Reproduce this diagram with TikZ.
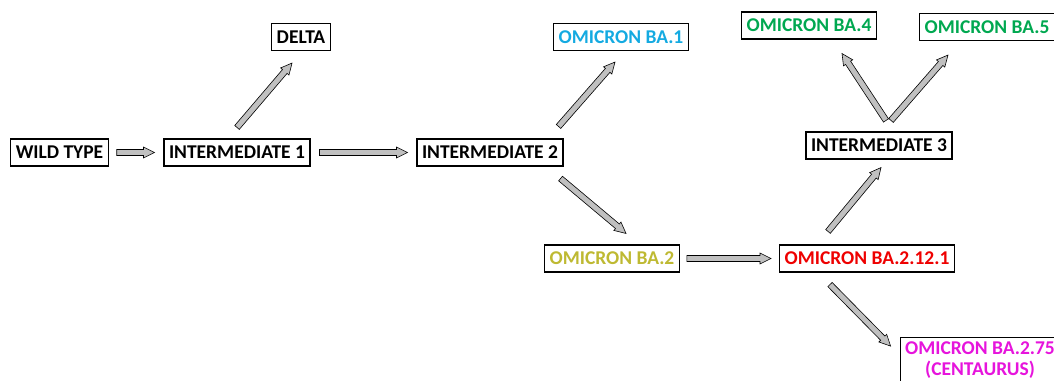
\documentclass[tikz,border=0pt]{standalone}
\usepackage{fontspec}
\setmainfont{Carlito}
\usetikzlibrary{calc}

\definecolor{bablue}{RGB}{20,170,225}
\definecolor{bagreen}{RGB}{0,168,80}
\definecolor{baolive}{RGB}{190,185,50}
\definecolor{bared}{RGB}{238,0,0}
\definecolor{bapink}{RGB}{230,20,220}
\definecolor{flowgray}{RGB}{192,192,192}

\begin{document}
\begin{tikzpicture}[x=1pt, y=-1pt,
  box/.style={draw, line width=1.1pt, font=\fontsize{19.5}{21}\selectfont\bfseries,
    inner xsep=5pt, inner ysep=2pt, minimum height=27pt},
  flow/.style={fill=flowgray, draw=black, line width=0.6pt, line join=miter,
    to path={let \p1=(\tikztostart), \p2=(\tikztotarget),
      \n1={atan2(\y2-\y1,\x2-\x1)}, \n2={veclen(\x2-\x1,\y2-\y1)} in
      ($(\p1)+(\n1+90:3pt)$) -- ($(\p1)+(\n1:\n2*1pt-11pt)+(\n1+90:3pt)$)
      -- ($(\p1)+(\n1:\n2*1pt-11pt)+(\n1+90:5.5pt)$) -- (\p2)
      -- ($(\p1)+(\n1:\n2*1pt-11pt)+(\n1-90:5.5pt)$)
      -- ($(\p1)+(\n1:\n2*1pt-11pt)+(\n1-90:3pt)$)
      -- ($(\p1)+(\n1-90:3pt)$) -- cycle}}]
\useasboundingbox (0,0) rectangle (1054,380);

%variants
\node[box] (wt) at (59.5,152.5) {WILD TYPE};
\node[box] (i1) at (237,152.5) {INTERMEDIATE 1};
\node[box] (i2) at (490,152.5) {INTERMEDIATE 2};
\node[box] (delta) at (301,37) {DELTA};
\node[box, text=bablue] (ba1) at (621,37) {OMICRON BA.1};
\node[box, text=baolive] (ba2) at (612,258.5) {OMICRON BA.2};
\node[box, text=bared] (ba212) at (867,258.5) {OMICRON BA.2.12.1};
\node[box] (i3) at (879,145.5) {INTERMEDIATE 3};
\node[box, text=bagreen] (ba4) at (809,25.5) {OMICRON BA.4};
\node[box, text=bagreen] (ba5) at (987,27) {OMICRON BA.5};
\node[box, text=bapink, align=center, inner ysep=4pt] (ba275) at (980,360)
  {OMICRON BA.2.75\\(CENTAURUS)};

%arrows
\draw[flow] ([xshift=8pt]wt.east) to ([xshift=-9pt]i1.west);
\draw[flow] ([xshift=9pt]i1.east) to ([xshift=-9pt]i2.west);
\draw[flow] ([shift={(0,-11)}]i1.north) to ([shift={(-9,12)}]delta.south);
\draw[flow] ([shift={(-5,-12)}]i2.north east) to ([shift={(-6,11)}]ba1.south);
\draw[flow] ([shift={(-3,12)}]i2.south east) to ([shift={(14,-11)}]ba2.north);
\draw[flow] ([xshift=7pt]ba2.east) to ([xshift=-8pt]ba212.west);
\draw[flow] ([shift={(-39,-13)}]ba212.north) to ([shift={(2,8)}]i3.south);
\draw[flow] ([shift={(-37,12)}]ba212.south) to ([shift={(-9,9)}]ba275.north west);
\draw[flow] ([shift={(7,-11)}]i3.north) to ([shift={(33,14)}]ba4.south);
\draw[flow] ([shift={(12,-11)}]i3.north) to ([shift={(-39,14)}]ba5.south);
\end{tikzpicture}
\end{document}
